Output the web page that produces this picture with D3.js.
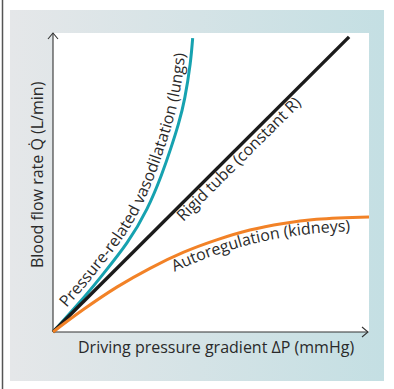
<!DOCTYPE html>
<html><head><meta charset="utf-8">
<script src="https://cdn.jsdelivr.net/npm/d3@7"></script>
<style>html,body{margin:0;padding:0;background:#fff;}svg{display:block;}</style>
</head><body>
<svg id="c" width="394" height="389"></svg>
<script>
// ---- data (arbitrary units) ----
const pressure = [0, 10.1, 16.1, 23.4, 29.7, 34.2, 37.3, 39.7, 41.7, 43.4, 44.2];      // teal x
const flowLungs = [0, 12.0, 19.7, 29.8, 41.1, 52.2, 61.5, 69.6, 78.3, 89.6, 98.3];     // teal y
const pressureRigid = [0, 93.7];
const flowRigid = [0, 98.7];
const pressureKidney = [0, 9.6, 20.2, 30.7, 41.2, 51.8, 62.3, 72.9, 83.4, 100];
const flowKidney = [0, 7.5, 15.0, 21.3, 26.6, 30.8, 34.1, 36.3, 37.7, 38.5];
const xLabel = "Driving pressure gradient \u0394P (mmHg)";
const yLabel = "Blood flow rate Q\u0307 (L/min)";
const labelLungs = "Pressure-related vasodilatation (lungs)";
const labelRigid = "Rigid tube (constant R)";
const labelKidney = "Autoregulation (kidneys)";

const svg = d3.select("#c");
const FONT = "'Open Sans', sans-serif";
const FS = 16;
const defs = svg.append("defs");
const grad = defs.append("linearGradient").attr("id","bg").attr("x1","0").attr("x2","1").attr("y1","0").attr("y2","0");
grad.append("stop").attr("offset","0").attr("stop-color","#e5e7e9");
grad.append("stop").attr("offset","1").attr("stop-color","#c4dfe3");

// frame
svg.append("line").attr("x1",2.5).attr("x2",2.5).attr("y1",0).attr("y2",389).attr("stroke","#555").attr("stroke-width",1.5);
svg.append("rect").attr("x",10).attr("y",10).attr("width",374).attr("height",371).attr("fill","url(#bg)");
svg.append("rect").attr("x",53).attr("y",33).attr("width",316).attr("height",299).attr("fill","#fff");

const x = d3.scaleLinear().domain([0,100]).range([53,369]);
const y = d3.scaleLinear().domain([0,100]).range([332,33]);

// axes
const axisG = svg.append("g").attr("stroke","#333").attr("stroke-width",1.1).attr("fill","none");
axisG.append("path").attr("d",`M${x(0)},${y(0)}V${y(100)}`);
axisG.append("path").attr("d",`M${x(0)-5},${y(100)+6}L${x(0)},${y(100)}L${x(0)+5},${y(100)+6}`);
axisG.append("path").attr("d",`M${x(0)},${y(0)}H${x(100)-1}`);
axisG.append("path").attr("d",`M${x(100)-7},${y(0)-5}L${x(100)-1},${y(0)}L${x(100)-7},${y(0)+5}`);

const teal = d3.zip(pressure, flowLungs);
const rigid = d3.zip(pressureRigid, flowRigid);
const kidney = d3.zip(pressureKidney, flowKidney);
const mk = c => d3.line().x(d=>x(d[0])).y(d=>y(d[1])).curve(c);

const pTeal = svg.append("path").attr("d",mk(d3.curveNatural)(teal)).attr("fill","none").attr("stroke","#16a2b0").attr("stroke-width",3);
const pRigid = svg.append("path").attr("d",mk(d3.curveLinear)(rigid)).attr("fill","none").attr("stroke","#1b1b1b").attr("stroke-width",3.4);
const pKid = svg.append("path").attr("d",mk(d3.curveMonotoneX)(kidney)).attr("fill","none").attr("stroke","#f28227").attr("stroke-width",3);

// offset path helper for labels following the curves
function offsetPath(pathNode, d, id){
  const L = pathNode.getTotalLength();
  const N = 120, pts=[];
  for(let i=0;i<=N;i++){
    const s = L*i/N;
    const p = pathNode.getPointAtLength(s);
    const a = pathNode.getPointAtLength(Math.max(0,s-3)), b = pathNode.getPointAtLength(Math.min(L,s+3));
    let tx=b.x-a.x, ty=b.y-a.y; const m=Math.hypot(tx,ty)||1; tx/=m; ty/=m;
    pts.push([p.x + (-ty)*d, p.y + tx*d]);
  }
  defs.append("path").attr("id",id).attr("d", d3.line().curve(d3.curveBasis)(pts));
}
offsetPath(pTeal.node(), -6, "tp1");
offsetPath(pRigid.node(), 14, "tp2");
offsetPath(pKid.node(), 14, "tp3");

function pathLabel(id, txt, off){
  svg.append("text").attr("font-family",FONT).attr("font-size",FS).attr("fill","#2a2a2a")
    .append("textPath").attr("href","#"+id).attr("startOffset",off).text(txt);
}
pathLabel("tp1", labelLungs, 27);
pathLabel("tp2", labelRigid, 170);
pathLabel("tp3", labelKidney, 134);

// axis titles
svg.append("text").attr("x",78).attr("y",353).attr("font-family",FONT).attr("font-size",FS).attr("fill","#2a2a2a").text(xLabel);
svg.append("text").attr("transform","translate(43,268) rotate(-90)").attr("font-family",FONT).attr("font-size",FS).attr("fill","#2a2a2a").text(yLabel);
</script>
</body></html>
